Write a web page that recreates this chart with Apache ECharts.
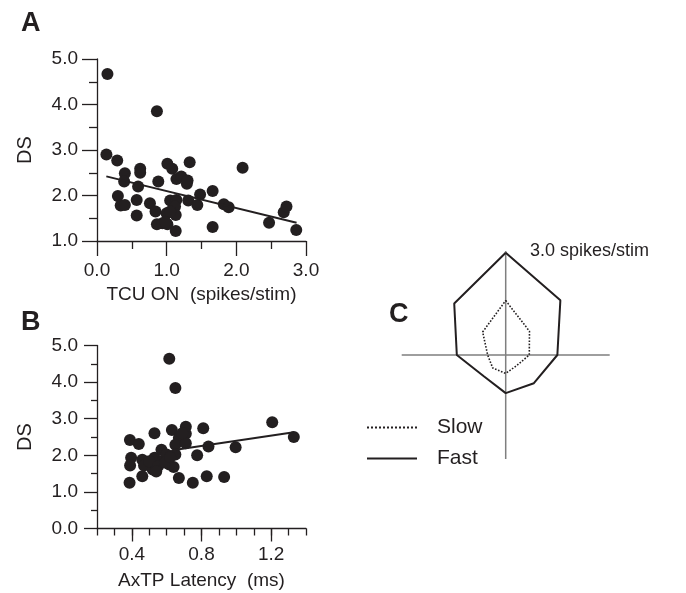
<!DOCTYPE html>
<html>
<head>
<meta charset="utf-8">
<script src="https://cdn.jsdelivr.net/npm/echarts@6/dist/echarts.min.js"></script>
<style>
html,body{margin:0;padding:0;background:#fff;}
#chart{width:686px;height:593px;}
</style>
</head>
<body>
<div id="chart"></div>
<script>
// Panel A: TCU ON (spikes/stim) vs DS
const aX = [0.15,0.86,0.135,0.29,0.40,0.39,0.62,0.62,0.59,0.30,0.34,0.40,0.57,0.57,0.88,0.76,0.84,0.86,0.94,1.01,1.01,1.08,1.13,1.14,1.21,1.29,1.33,1.05,1.14,1.12,1.00,1.13,1.31,1.44,1.48,1.66,1.66,1.82,1.89,2.09,2.47,2.68,2.72,2.86,1.05,0.98,1.30];
const aY = [4.67,3.85,2.90,2.77,2.49,2.31,2.59,2.50,2.20,1.99,1.78,1.79,1.90,1.56,2.31,1.83,1.65,1.37,1.39,1.37,2.70,2.59,1.22,2.36,2.42,2.26,2.73,1.89,1.90,1.76,1.61,1.57,1.89,1.79,2.02,2.10,1.31,1.81,1.74,2.61,1.40,1.63,1.76,1.24,1.65,1.42,2.33];
const aFitX = [0.134, 2.865];
const aFitY = [2.42, 1.40];

// Panel B: AxTP Latency (ms) vs DS
const bX = [0.615,0.65,0.389,0.44,0.53,0.63,0.71,0.71,0.67,0.65,0.71,0.81,0.84,0.775,0.996,1.206,1.33,0.396,0.39,0.387,0.46,0.47,0.46,0.53,0.52,0.57,0.58,0.60,0.65,0.64,0.67,0.75,0.83,0.93,0.50,0.55,0.615,0.69,0.54,0.59,0.62];
const bY = [4.64,3.84,2.42,2.31,2.60,2.69,2.78,2.59,2.47,2.29,2.33,2.74,2.24,2.00,2.22,2.90,2.50,1.93,1.72,1.25,1.88,1.72,1.43,1.93,1.61,2.15,1.86,2.02,2.02,1.68,1.38,1.25,1.43,1.41,1.84,1.70,1.75,2.60,1.56,1.80,1.95];
const bFitX = [0.653, 1.33];
const bFitY = [2.15, 2.63];

// Panel C: polar plot
const cAngles = [90,45,0,315,270,225,180,135,90];
const cSlow = [1.57,0.97,0.68,0.44,0.53,0.53,0.52,0.94,1.57];
const cFast = [2.95,2.23,1.49,1.15,1.10,0.88,1.41,2.10,2.95];

const aXTicks = {min:0, max:3, interval:1};
const aYTicks = {min:1, max:5, interval:1};
const bYTicks = {min:0, max:5, interval:1};
const bXTicks = {min:0.2, max:1.4, interval:0.1};
const bXLabels = [0.4, 0.8, 1.2];

const INK = '#231f20';
const FONT = 'Liberation Sans, Arial, Helvetica, sans-serif';

const zip = (xs, ys) => xs.map((x, i) => [x, ys[i]]);
const axLine = {show:true, lineStyle:{color:INK, width:1.3}};
const fmt1 = v => v.toFixed(1);

const chart = echarts.init(document.getElementById('chart'), null, {renderer:'canvas'});
chart.setOption({
  animation:false,
  backgroundColor:'#fff',
  textStyle:{fontFamily:FONT},
  grid:[
    {left:97, top:59, width:209, height:182},
    {left:97, top:345.5, width:209, height:183}
  ],
  polar:{center:[505.7, 355], radius:104},
  angleAxis:{type:'value', min:0, max:360, interval:90, startAngle:0, clockwise:false,
    axisLine:{show:false}, axisTick:{show:false}, axisLabel:{show:false},
    splitLine:{show:true, lineStyle:{color:'#7f7f7f', width:1.5}}},
  radiusAxis:{type:'value', min:0, max:3, axisLine:{show:false}, axisTick:{show:false},
    axisLabel:{show:false}, splitLine:{show:false}},
  xAxis:[
    {gridIndex:0, type:'value', min:aXTicks.min, max:aXTicks.max, interval:aXTicks.interval,
      axisLine:axLine, splitLine:{show:false},
      axisTick:{show:true, length:15, lineStyle:{color:INK, width:1.3}},
      minorTick:{show:true, splitNumber:2, length:8, lineStyle:{color:INK, width:1.3}},
      axisLabel:{formatter:fmt1, fontSize:19, color:INK, margin:20, fontFamily:FONT},
      name:'TCU ON  (spikes/stim)', nameLocation:'middle', nameGap:44,
      nameTextStyle:{fontSize:19, color:INK, fontFamily:FONT}},
    {gridIndex:1, type:'value', position:'bottom', min:bXTicks.min, max:bXTicks.max, interval:bXTicks.interval,
      axisLine:axLine, splitLine:{show:false},
      axisTick:{show:true, length:7, lineStyle:{color:INK, width:1.3}},
      axisLabel:{formatter:v => {const r = Math.round(v*10); return bXLabels.some(l => Math.round(l*10) === r) ? (r/10).toFixed(1) : '';},
        fontSize:19, color:INK, margin:17, fontFamily:FONT},
      name:'AxTP Latency  (ms)', nameLocation:'middle', nameGap:43,
      nameTextStyle:{fontSize:19, color:INK, fontFamily:FONT}},
    {gridIndex:1, type:'value', position:'bottom', offset:0, min:bXTicks.min, max:bXTicks.max,
      axisLine:{show:false}, splitLine:{show:false}, axisLabel:{show:false},
      axisTick:{show:true, length:13, customValues:bXLabels, lineStyle:{color:INK, width:1.3}}}
  ],
  yAxis:[
    {gridIndex:0, type:'value', min:aYTicks.min, max:aYTicks.max, interval:aYTicks.interval,
      axisLine:axLine, splitLine:{show:false},
      axisTick:{show:true, length:15, lineStyle:{color:INK, width:1.3}},
      minorTick:{show:true, splitNumber:2, length:8, lineStyle:{color:INK, width:1.3}},
      axisLabel:{formatter:fmt1, fontSize:19, color:INK, margin:19, fontFamily:FONT},
      name:'DS', nameLocation:'middle', nameGap:62,
      nameTextStyle:{fontSize:20, color:INK, fontFamily:FONT}},
    {gridIndex:1, type:'value', min:bYTicks.min, max:bYTicks.max, interval:bYTicks.interval,
      axisLine:axLine, splitLine:{show:false},
      axisTick:{show:true, length:13, lineStyle:{color:INK, width:1.3}},
      minorTick:{show:true, splitNumber:2, length:6, lineStyle:{color:INK, width:1.3}},
      axisLabel:{formatter:fmt1, fontSize:19, color:INK, margin:19, fontFamily:FONT},
      name:'DS', nameLocation:'middle', nameGap:62,
      nameTextStyle:{fontSize:20, color:INK, fontFamily:FONT}}
  ],
  legend:{
    data:['Slow','Fast'], orient:'vertical', left:361, top:412,
    itemWidth:50, itemHeight:14, itemGap:10, selectedMode:false,
    itemStyle:{opacity:0},
    textStyle:{fontSize:21, color:INK, fontFamily:FONT, padding:[0,0,0,15]}
  },
  series:[
    {type:'scatter', xAxisIndex:0, yAxisIndex:0, data:zip(aX, aY), symbolSize:12,
      itemStyle:{color:INK, opacity:1}},
    {type:'line', xAxisIndex:0, yAxisIndex:0, data:zip(aFitX, aFitY), symbol:'none',
      lineStyle:{color:INK, width:2}},
    {type:'scatter', xAxisIndex:1, yAxisIndex:1, data:zip(bX, bY), symbolSize:12,
      itemStyle:{color:INK, opacity:1}},
    {type:'line', xAxisIndex:1, yAxisIndex:1, data:zip(bFitX, bFitY), symbol:'none',
      lineStyle:{color:INK, width:2}},
    {name:'Slow', type:'line', coordinateSystem:'polar', symbol:'none',
      data:cSlow.map((r, i) => [r, cAngles[i]]),
      lineStyle:{color:INK, width:1.6, type:'dotted'}, itemStyle:{color:INK}},
    {name:'Fast', type:'line', coordinateSystem:'polar', symbol:'none',
      data:cFast.map((r, i) => [r, cAngles[i]]),
      lineStyle:{color:INK, width:2, type:'solid'}, itemStyle:{color:INK}}
  ],
  graphic:[
    {type:'text', left:21, top:10, style:{text:'A', font:'bold 27px ' + FONT, fill:INK}},
    {type:'text', left:21, top:309, style:{text:'B', font:'bold 27px ' + FONT, fill:INK}},
    {type:'text', left:389, top:301, style:{text:'C', font:'bold 27px ' + FONT, fill:INK}},
    {type:'text', left:530, top:242, style:{text:'3.0 spikes/stim', font:'18px ' + FONT, fill:INK}}
  ]
});
</script>
</body>
</html>
